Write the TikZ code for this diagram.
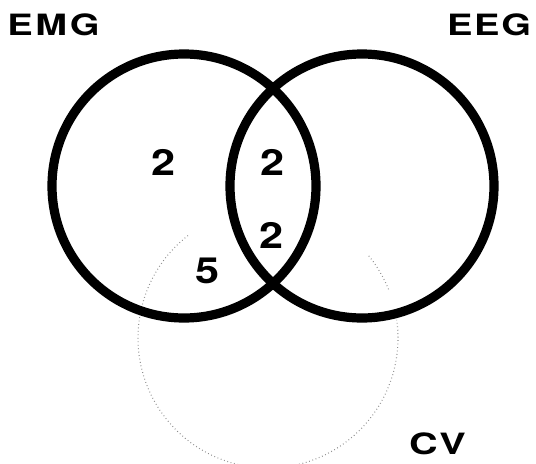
\documentclass[tikz,border=0pt]{standalone}
\usepackage{fontspec}
\setmainfont{TeX Gyre Heros}
\begin{document}
\begin{tikzpicture}[x=0.75pt,y=-0.75pt,
  ring/.style={draw=black, line width=6.9pt, circle, minimum size=198pt, inner sep=0pt, outer sep=0pt},
  setlabel/.style={font=\fontsize{22}{26}\selectfont\bfseries, inner sep=0pt},
  count/.style={font=\fontsize{27}{31}\selectfont\bfseries, inner sep=0pt},
  faint/.style={draw=black!45, line width=0.8pt, dash pattern=on 0.6pt off 2pt}]
\useasboundingbox (0,0) rectangle (536,464);

% third set (CV): faint dotted circle, partly hidden
\coordinate (cvc) at (268,338);
\begin{scope}
  \clip (0,0) rectangle (536,464);
  \draw[faint] ([shift={(-128:130)}]cvc) arc[start angle=-128, end angle=-368, radius=130];
  \draw[faint] ([shift={(-22:130)}]cvc) arc[start angle=-22, end angle=-40, radius=130];
\end{scope}

% the two main sets
\node[ring] (emg) at (184,186) {};
\node[ring] (eeg) at (362,186) {};

% set names
\node[setlabel] (emgname) at (53.5,24.5) {\scalebox{1.3}[1]{E\kern1.5pt M\kern1.5pt G}};
\node[setlabel] (eegname) at (489,24.5) {\scalebox{1.3}[1]{E\kern1pt E\kern1pt G}};
\node[setlabel] (cvname) at (437.5,444) {\scalebox{1.35}[1]{C\kern1pt V}};

% counts
\node[count] (emgonly) at (164,162) {\scalebox{1.2}[1]{2}};
\node[count] (both) at (273,162) {\scalebox{1.2}[1]{2}};
\node[count] (allthree) at (272,235) {\scalebox{1.2}[1]{2}};
\node[count] (emgcv) at (208,271) {\scalebox{1.2}[1]{5}};
\end{tikzpicture}
\end{document}
